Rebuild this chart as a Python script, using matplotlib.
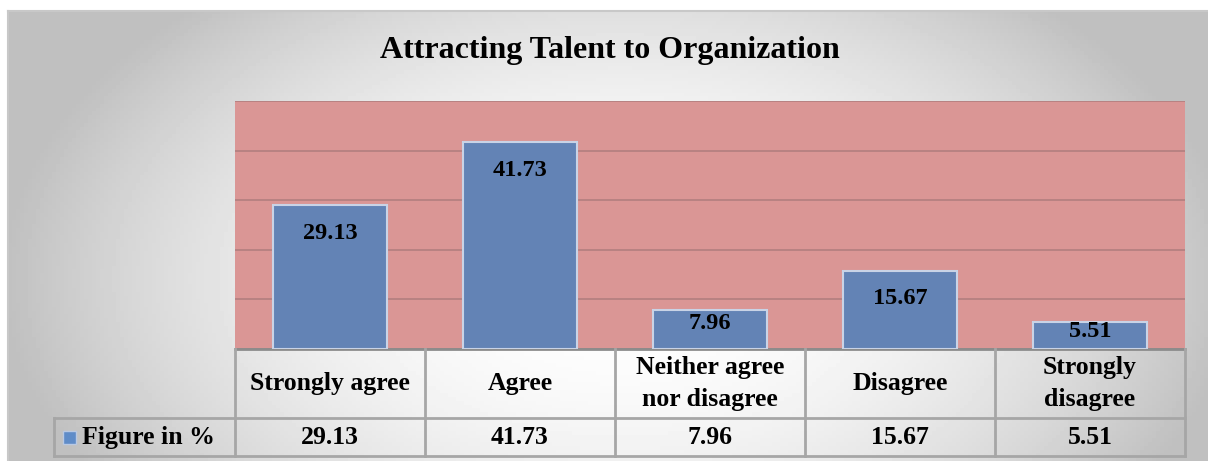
import numpy as np
import matplotlib
matplotlib.use('Agg')
import matplotlib.pyplot as plt
from matplotlib.patches import Rectangle
from matplotlib.lines import Line2D
import matplotlib.transforms as mtransforms

# chart data
categories = ['Strongly agree', 'Agree', 'Neither agree\nnor disagree', 'Disagree', 'Strongly\ndisagree']
values = [29.13, 41.73, 7.96, 15.67, 5.51]
series_name = 'Figure in %'
title = 'Attracting Talent to Organization'

W, H = 1208, 461
plt.rcParams['font.family'] = ['Liberation Serif', 'DejaVu Serif']
plt.rcParams['font.weight'] = 'bold'

fig = plt.figure(figsize=(W / 100, H / 100), dpi=100)
fig.patch.set_facecolor('white')

# gray radial gradient panel behind everything
bg = fig.add_axes([8 / W, 0, 1 - 8 / W, 1 - 11 / H], zorder=-5)
xx, yy = np.meshgrid(np.linspace(8, W, 300), np.linspace(11, H, 120))
r = np.sqrt(((xx - 620) / 620) ** 2 + ((yy - 280) / 380) ** 2)
shade = 1 - 0.25 * np.clip(r, 0, 1) ** 2
bg.imshow(shade, cmap='gray', vmin=0, vmax=1, aspect='auto', extent=(0, 1, 0, 1), origin='upper')
bg.set_xlim(0, 1)
bg.set_ylim(0, 1)
bg.axis('off')
fig.add_artist(Line2D([8 / W, 1], [1 - 11 / H] * 2, color='#c8c8c8', lw=1.5))
fig.add_artist(Line2D([8 / W] * 2, [0, 1 - 11 / H], color='#c8c8c8', lw=1.5))

# plot area
ax = fig.add_axes([235 / W, 1 - 349 / H, 950 / W, 248 / H])
ax.set_facecolor('#da9695')
x = np.arange(len(categories))
ax.bar(x, values, width=0.6, color='#6383b5', edgecolor='#c9d3e6', linewidth=1.5, zorder=3)
ax.set_xlim(-0.5, len(categories) - 0.5)
ax.set_ylim(0, 50)
ax.set_yticks(np.arange(0, 51, 10))
ax.grid(axis='y', color='#b58080', lw=1.3, zorder=1)
ax.tick_params(left=False, bottom=False, labelleft=False, labelbottom=False)
for s in ax.spines.values():
    s.set_visible(False)

# data labels inside the bar ends
for xi, v in zip(x, values):
    ax.text(xi, v - min(5.8, 0.35 * v), f'{v:.2f}', ha='center', va='center',
            fontsize=17.5, fontweight='bold', zorder=4)

fig.text(0.505, 0.89, title, ha='center', va='center', fontsize=23, fontweight='bold')

# data table under the axis
blend = mtransforms.blended_transform_factory(ax.transData, ax.transAxes)
row1_bot = -69 / 248
row2_bot = -107 / 248
left_edge = (54 - 235) / 950
grid_c = '#a6a6a6'
n = len(categories)

ax.add_line(Line2D([-0.5, n - 0.5], [0, 0], transform=blend, color='#8c8c8c', lw=2, clip_on=False))
for yl in (row1_bot, row2_bot):
    ax.add_line(Line2D([left_edge, 1], [yl, yl], transform=ax.transAxes, color=grid_c, lw=2, clip_on=False))
for i in range(n + 1):
    ax.add_line(Line2D([i - 0.5, i - 0.5], [0, row2_bot], transform=blend, color=grid_c, lw=2, clip_on=False))
ax.add_line(Line2D([left_edge, left_edge], [row1_bot, row2_bot], transform=ax.transAxes,
                   color=grid_c, lw=2, clip_on=False))

for xi, cat, v in zip(x, categories, values):
    ax.text(xi, row1_bot / 2, cat, transform=blend, ha='center', va='center',
            fontsize=18.5, fontweight='bold', linespacing=1.45, clip_on=False)
    ax.text(xi, (row1_bot + row2_bot) / 2, f'{v:.2f}', transform=blend, ha='center', va='center',
            fontsize=18.5, fontweight='bold', clip_on=False)

# legend key in the row header
key_y = (row1_bot + row2_bot) / 2
ax.add_patch(Rectangle(((63 - 235) / 950, key_y - 6.5 / 248), 13 / 950, 13 / 248, transform=ax.transAxes,
                       facecolor='#5f8cc8', edgecolor='#b9c9e3', lw=1, clip_on=False))
ax.text((82 - 235) / 950, key_y, series_name, transform=ax.transAxes, ha='left', va='center',
        fontsize=18.5, fontweight='bold', clip_on=False)

fig.savefig('out.png', dpi=100)
